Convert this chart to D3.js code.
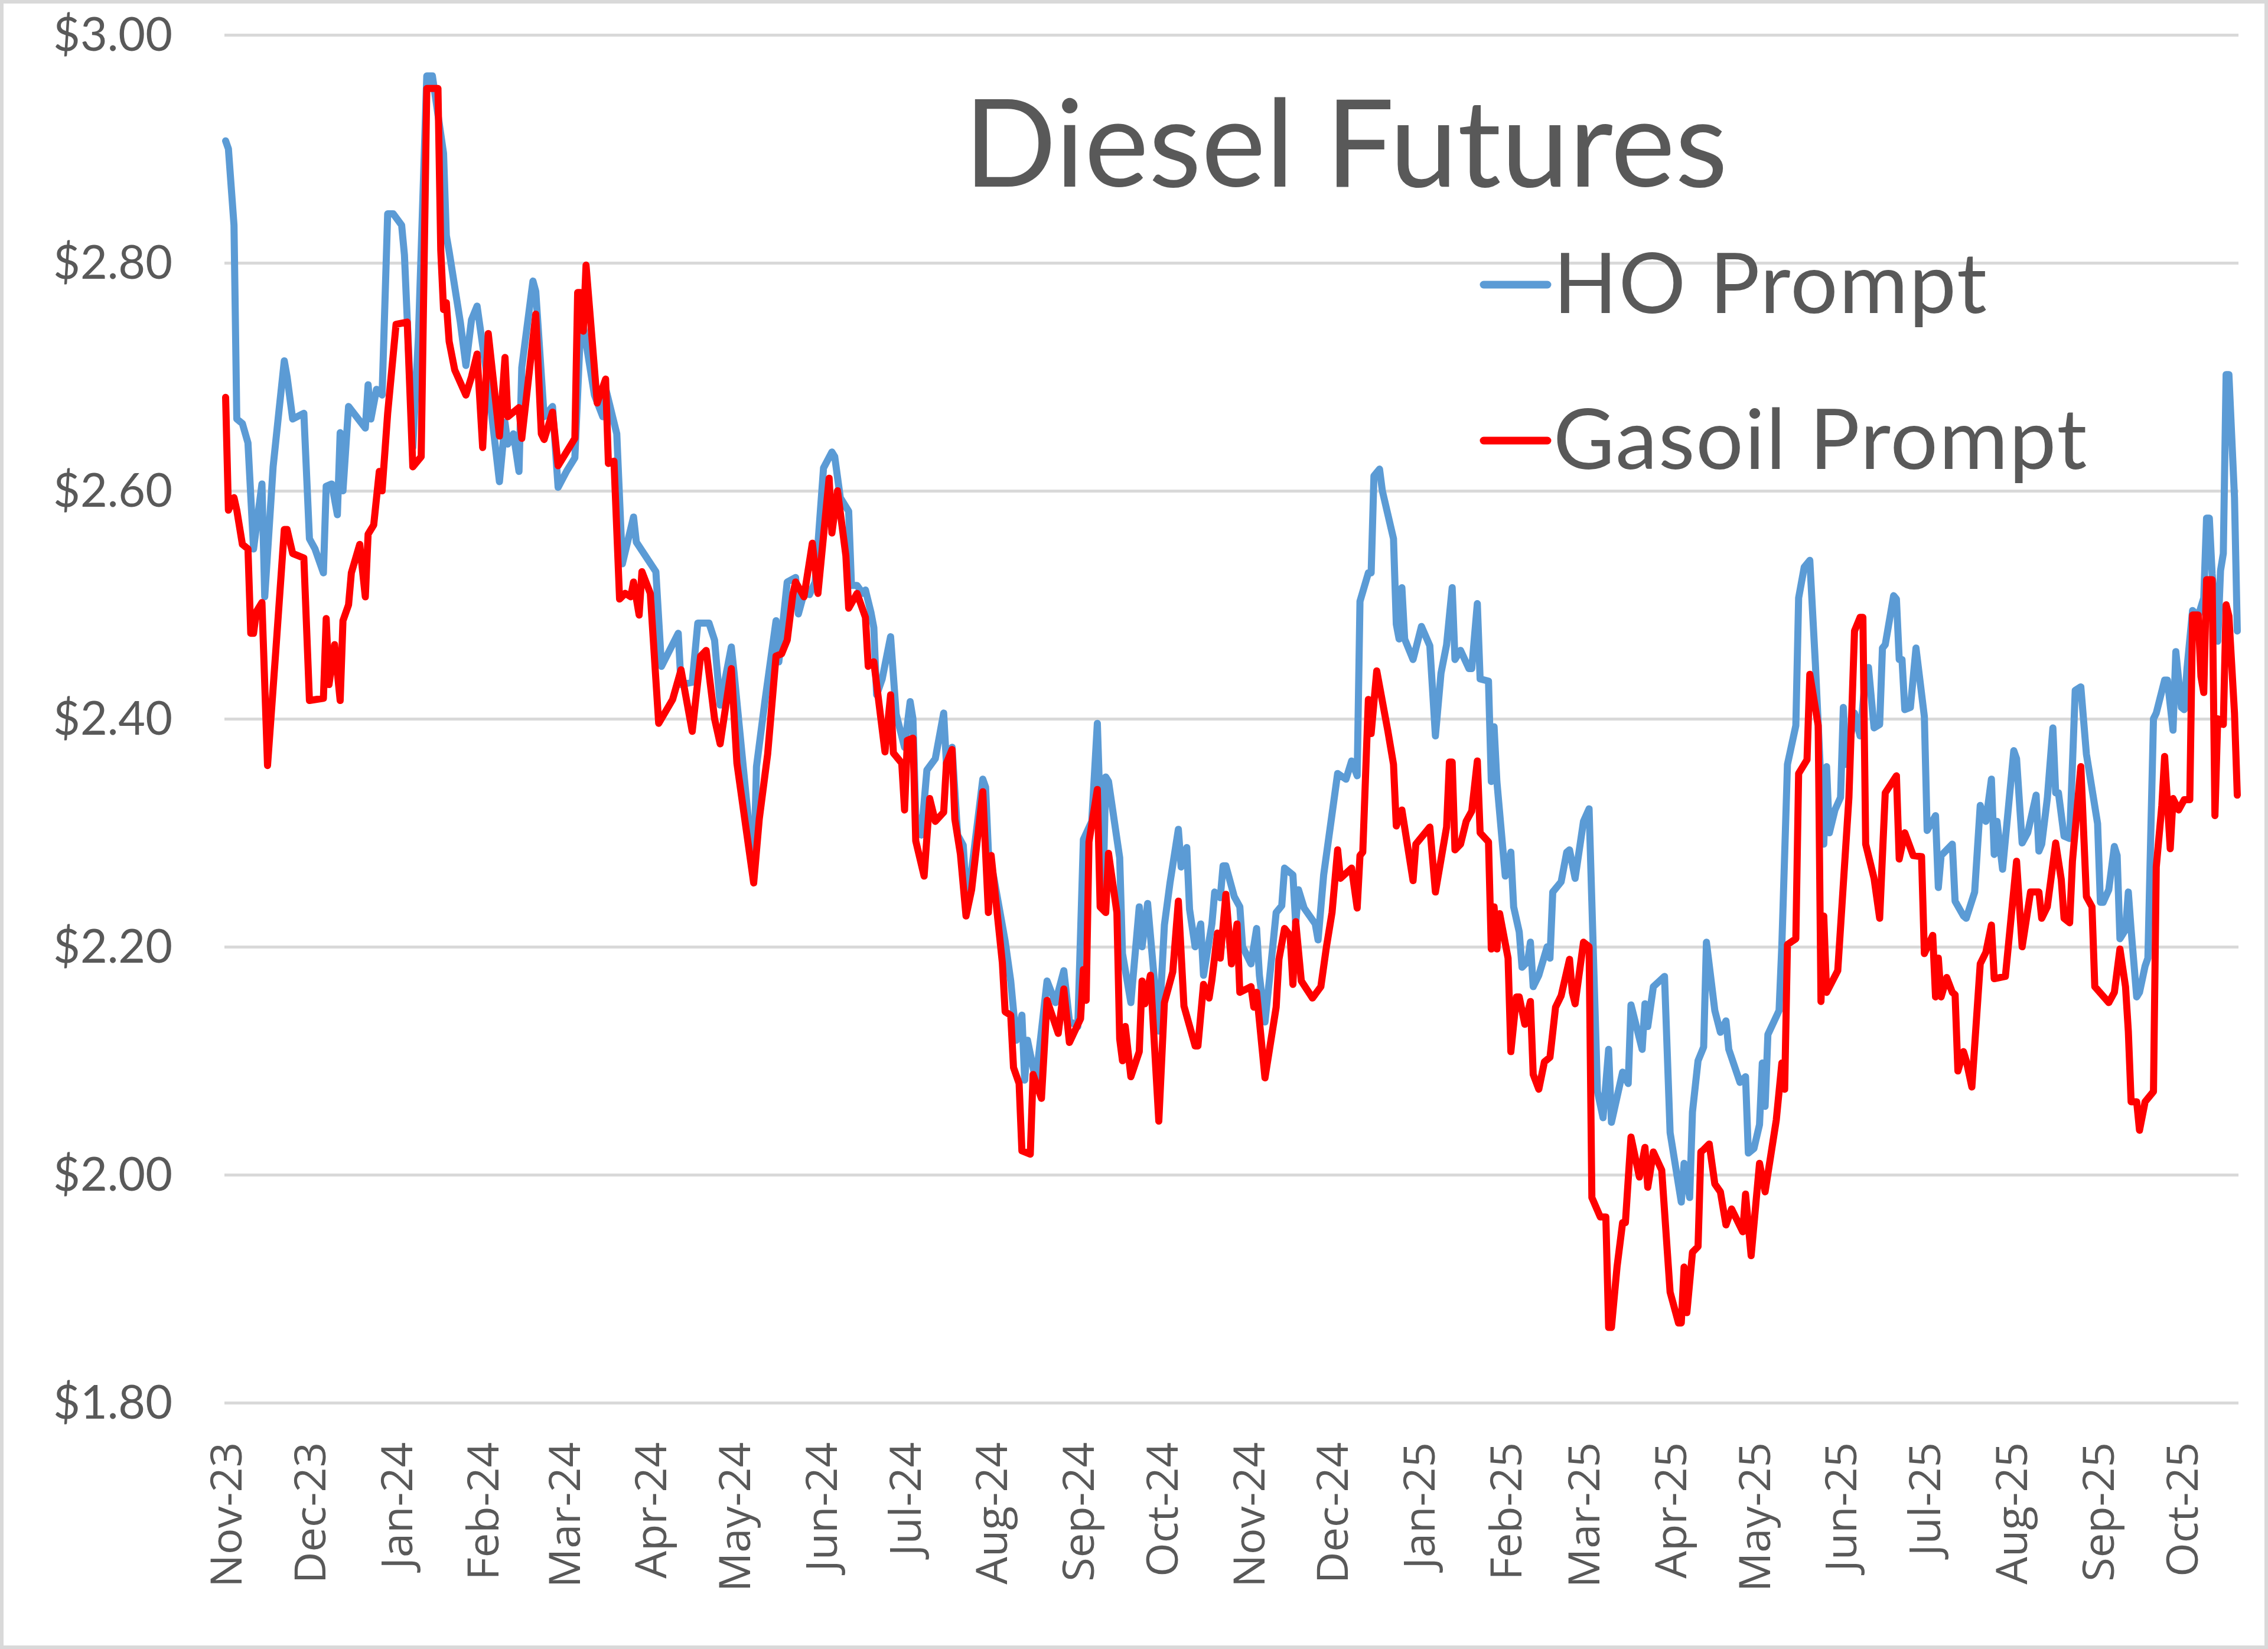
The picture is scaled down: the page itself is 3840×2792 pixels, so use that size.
<!DOCTYPE html>
<html>
<head>
<meta charset="utf-8">
<script src="https://cdn.jsdelivr.net/npm/d3@7"></script>
<style>
  html, body { margin: 0; padding: 0; background: #ffffff; }
</style>
</head>
<body>
<script type="text/javascript">
    const Width = 3840;
    const Height = 2792;

    // first trading day of the series, days below are counted from here
    const startDate = "2023-11-01";
    const lastDay = 720;

    const yTicks = [1.8, 2.0, 2.2, 2.4, 2.6, 2.8, 3.0];
    const seriesNames = ["HO Prompt", "Gasoil Prompt"];

    // [day offset, $/gal]
    const hoPrompt = [
        [0,2.907],[1,2.90],[3,2.833],[4,2.663],[6,2.659],[8,2.642],[10,2.549],[13,2.606],[14,2.507],[17,2.621],
        [19,2.668],[21,2.714],[22,2.70],[24,2.663],[28,2.668],[30,2.558],[32,2.549],[35,2.528],[36,2.604],[38,2.606],
        [40,2.579],[41,2.651],[42,2.60],[44,2.674],[50,2.655],[51,2.693],[52,2.663],[54,2.689],[56,2.684],[58,2.843],
        [60,2.843],[63,2.833],[64,2.807],[67,2.638],[69,2.735],[72,2.964],[74,2.964],[78,2.896],[79,2.824],[80,2.81],
        [84,2.748],[86,2.71],[88,2.75],[90,2.762],[94,2.693],[98,2.608],[100,2.66],[101,2.641],[103,2.65],[105,2.617],
        [106,2.708],[110,2.784],[111,2.775],[114,2.665],[117,2.674],[119,2.603],[122,2.617],[125,2.629],[127,2.741],[128,2.745],
        [132,2.684],[135,2.665],[136,2.69],[140,2.650],[142,2.536],[146,2.577],[147,2.555],[154,2.529],[156,2.446],[162,2.475],
        [163,2.43],[167,2.432],[169,2.484],[173,2.484],[175,2.469],[177,2.412],[181,2.463],[182,2.44],[189,2.264],[190,2.358],
        [193,2.415],[197,2.486],[198,2.45],[201,2.52],[204,2.524],[205,2.492],[207,2.51],[209,2.509],[211,2.52],[214,2.62],
        [217,2.634],[218,2.63],[220,2.594],[223,2.582],[224,2.517],[226,2.517],[228,2.51],[229,2.513],[231,2.493],[232,2.48],
        [233,2.421],[235,2.435],[238,2.472],[240,2.404],[243,2.375],[245,2.415],[246,2.40],[247,2.316],[249,2.298],[251,2.355],
        [254,2.365],[257,2.405],[258,2.36],[260,2.375],[262,2.298],[264,2.289],[265,2.25],[267,2.267],[271,2.347],[272,2.34],
        [273,2.284],[275,2.26],[279,2.205],[281,2.17],[283,2.118],[285,2.14],[286,2.083],[287,2.118],[289,2.094],[290,2.083],
        [294,2.17],[297,2.151],[300,2.179],[302,2.135],[305,2.13],[307,2.294],[310,2.31],[312,2.396],[314,2.243],[315,2.349],
        [316,2.345],[320,2.278],[321,2.194],[324,2.151],[327,2.235],[328,2.2],[330,2.238],[334,2.126],[336,2.219],[338,2.256],
        [341,2.303],[342,2.27],[344,2.287],[345,2.233],[347,2.20],[349,2.22],[350,2.175],[353,2.22],[354,2.248],[356,2.243],
        [357,2.271],[358,2.271],[361,2.244],[363,2.235],[364,2.20],[367,2.185],[369,2.216],[370,2.175],[372,2.134],[374,2.181],
        [376,2.23],[378,2.236],[379,2.269],[382,2.263],[383,2.22],[384,2.25],[386,2.234],[390,2.22],[391,2.206],[393,2.263],
        [398,2.352],[401,2.347],[403,2.363],[405,2.35],[406,2.503],[409,2.528],[410,2.528],[411,2.613],[413,2.619],[414,2.60],
        [418,2.558],[419,2.483],[420,2.47],[421,2.515],[422,2.47],[425,2.452],[428,2.481],[431,2.464],[433,2.385],[435,2.44],
        [437,2.465],[439,2.515],[440,2.452],[442,2.46],[445,2.444],[446,2.444],[448,2.501],[449,2.435],[452,2.433],[453,2.345],
        [454,2.393],[455,2.345],[458,2.262],[460,2.283],[461,2.235],[463,2.213],[464,2.182],[466,2.187],[467,2.204],[468,2.165],
        [470,2.175],[473,2.20],[474,2.19],[475,2.248],[478,2.257],[480,2.283],[481,2.285],[483,2.26],[486,2.31],[488,2.321],
        [491,2.073],[493,2.05],[495,2.11],[496,2.046],[500,2.09],[502,2.08],[503,2.149],[507,2.11],[508,2.15],[509,2.13],
        [511,2.165],[515,2.174],[517,2.037],[521,1.976],[522,2.01],[524,1.98],[525,2.055],[527,2.10],[529,2.112],[530,2.204],
        [533,2.144],[535,2.125],[537,2.135],[538,2.11],[542,2.081],[544,2.086],[545,2.019],[547,2.023],[549,2.044],[550,2.098],
        [551,2.06],[552,2.123],[556,2.144],[557,2.202],[559,2.36],[562,2.394],[563,2.506],[565,2.533],[567,2.539],[569,2.448],
        [572,2.29],[573,2.358],[574,2.30],[576,2.32],[578,2.331],[579,2.41],[580,2.36],[583,2.405],[585,2.385],[587,2.439],
        [588,2.445],[590,2.392],[592,2.395],[593,2.462],[594,2.465],[597,2.508],[598,2.505],[599,2.452],[600,2.452],[601,2.408],
        [603,2.41],[605,2.462],[608,2.402],[609,2.302],[612,2.315],[613,2.252],[614,2.28],[618,2.29],[619,2.24],[622,2.227],
        [623,2.225],[626,2.248],[628,2.324],[630,2.31],[632,2.347],[633,2.281],[634,2.31],[636,2.268],[640,2.372],[641,2.365],
        [643,2.291],[645,2.30],[648,2.333],[649,2.284],[650,2.29],[652,2.33],[654,2.392],[655,2.335],[656,2.335],[658,2.297],
        [660,2.295],[662,2.425],[664,2.428],[666,2.369],[670,2.308],[671,2.239],[672,2.239],[674,2.25],[676,2.288],[677,2.28],
        [678,2.207],[680,2.215],[681,2.248],[682,2.215],[684,2.156],[685,2.16],[687,2.183],[688,2.19],[690,2.40],[691,2.405],
        [694,2.434],[695,2.434],[697,2.39],[698,2.459],[700,2.41],[701,2.408],[702,2.444],[704,2.495],[706,2.49],[708,2.506],
        [709,2.576],[710,2.576],[711,2.527],[713,2.468],[714,2.53],[715,2.545],[716,2.702],[717,2.702],[719,2.594],[720,2.477]
    ];

    const gasoilPrompt = [
        [0,2.682],[1,2.583],[3,2.594],[4,2.583],[6,2.553],[8,2.549],[9,2.475],[10,2.475],[11,2.494],[13,2.502],
        [15,2.359],[18,2.461],[21,2.566],[22,2.566],[24,2.545],[28,2.541],[30,2.416],[35,2.418],[36,2.488],[37,2.43],
        [39,2.465],[41,2.416],[42,2.486],[44,2.50],[45,2.528],[48,2.553],[50,2.507],[51,2.562],[53,2.57],[55,2.617],
        [56,2.60],[58,2.668],[61,2.746],[65,2.748],[67,2.621],[70,2.63],[72,2.953],[76,2.953],[77,2.811],[78,2.759],
        [79,2.765],[80,2.731],[82,2.706],[86,2.684],[88,2.70],[90,2.72],[92,2.638],[94,2.738],[98,2.648],[100,2.717],
        [101,2.665],[105,2.673],[106,2.646],[111,2.755],[113,2.65],[114,2.645],[117,2.669],[119,2.622],[125,2.646],[126,2.774],
        [127,2.774],[128,2.74],[129,2.798],[133,2.677],[136,2.698],[137,2.624],[139,2.626],[141,2.505],[143,2.51],[145,2.507],
        [146,2.52],[148,2.491],[149,2.529],[152,2.51],[155,2.396],[160,2.417],[163,2.443],[167,2.389],[170,2.455],[172,2.46],
        [175,2.40],[177,2.378],[181,2.444],[183,2.361],[189,2.256],[191,2.312],[194,2.369],[197,2.455],[199,2.457],[201,2.469],
        [203,2.509],[204,2.52],[207,2.507],[210,2.554],[212,2.51],[216,2.611],[217,2.563],[219,2.60],[222,2.543],[223,2.497],
        [226,2.51],[229,2.489],[230,2.446],[232,2.45],[236,2.371],[238,2.421],[239,2.37],[242,2.361],[243,2.32],[244,2.381],
        [246,2.383],[247,2.293],[250,2.262],[252,2.33],[254,2.31],[257,2.318],[258,2.361],[260,2.373],[261,2.312],[263,2.281],
        [265,2.227],[267,2.25],[271,2.336],[273,2.23],[274,2.28],[278,2.186],[279,2.143],[281,2.14],[282,2.094],[284,2.08],
        [285,2.021],[288,2.018],[289,2.088],[292,2.067],[294,2.153],[298,2.124],[300,2.163],[302,2.116],[306,2.137],[307,2.18],
        [308,2.153],[309,2.292],[312,2.338],[313,2.235],[315,2.23],[316,2.282],[319,2.23],[320,2.119],[321,2.10],[322,2.13],
        [324,2.086],[327,2.108],[328,2.17],[329,2.15],[331,2.175],[334,2.047],[336,2.151],[339,2.178],[341,2.24],[343,2.148],
        [347,2.113],[348,2.113],[350,2.167],[352,2.155],[353,2.171],[355,2.212],[356,2.19],[358,2.246],[360,2.185],[362,2.22],
        [363,2.16],[367,2.165],[368,2.147],[369,2.16],[372,2.085],[376,2.147],[377,2.189],[379,2.216],[381,2.21],[382,2.167],
        [383,2.222],[385,2.17],[389,2.155],[392,2.165],[394,2.20],[396,2.23],[398,2.285],[399,2.26],[403,2.269],[405,2.234],
        [406,2.28],[407,2.283],[409,2.417],[410,2.387],[412,2.442],[416,2.389],[418,2.36],[419,2.306],[421,2.32],[425,2.258],
        [426,2.29],[431,2.305],[433,2.248],[437,2.305],[438,2.362],[439,2.362],[440,2.285],[442,2.29],[444,2.31],[446,2.319],
        [448,2.363],[449,2.30],[452,2.292],[453,2.198],[454,2.235],[455,2.198],[456,2.229],[459,2.19],[460,2.108],[462,2.156],
        [463,2.156],[465,2.132],[467,2.152],[468,2.088],[470,2.075],[472,2.099],[474,2.103],[476,2.147],[478,2.157],[481,2.189],
        [482,2.16],[483,2.15],[486,2.204],[488,2.20],[489,1.98],[492,1.963],[494,1.963],[495,1.866],[496,1.866],[498,1.919],
        [500,1.958],[501,1.958],[503,2.033],[506,1.998],[508,2.024],[509,1.989],[511,2.02],[514,2.004],[517,1.897],[520,1.870],
        [521,1.870],[522,1.919],[523,1.879],[525,1.932],[527,1.937],[528,2.02],[529,2.022],[531,2.027],[533,1.992],[535,1.985],
        [537,1.956],[539,1.97],[543,1.95],[544,1.983],[546,1.929],[549,2.01],[551,1.985],[555,2.048],[557,2.098],[558,2.075],
        [559,2.202],[562,2.207],[563,2.352],[566,2.364],[567,2.439],[570,2.394],[571,2.152],[572,2.227],[573,2.16],[577,2.179],
        [581,2.331],[583,2.477],[585,2.489],[586,2.489],[587,2.29],[590,2.26],[592,2.225],[594,2.335],[598,2.35],[599,2.277],
        [601,2.30],[604,2.28],[607,2.279],[608,2.194],[611,2.21],[612,2.156],[613,2.19],[614,2.156],[616,2.173],[618,2.16],
        [619,2.158],[620,2.091],[622,2.108],[623,2.10],[625,2.077],[628,2.185],[630,2.195],[632,2.219],[633,2.172],[637,2.174],
        [641,2.275],[643,2.20],[646,2.248],[649,2.248],[650,2.225],[652,2.235],[655,2.291],[657,2.259],[658,2.225],[660,2.221],
        [661,2.275],[664,2.358],[666,2.244],[668,2.235],[669,2.165],[674,2.151],[676,2.16],[678,2.198],[680,2.165],[681,2.126],
        [682,2.064],[684,2.064],[685,2.039],[687,2.064],[690,2.073],[691,2.27],[693,2.324],[694,2.367],[696,2.286],[697,2.33],
        [699,2.32],[701,2.329],[703,2.329],[704,2.491],[706,2.491],[707,2.437],[708,2.423],[709,2.522],[711,2.522],[712,2.315],
        [713,2.40],[715,2.395],[716,2.50],[717,2.49],[719,2.405],[720,2.333]
    ];

    const seriesColors = ["#5b9bd5", "#ff0000"];

    const plot = { left: 382, right: 3788, top: 59, bottom: 2375 };
    const labelFont = "Lato, 'Open Sans', sans-serif";
    const textColor = "#595959";

    const start = d3.timeParse("%Y-%m-%d")(startDate);
    const toDate = d => d3.timeDay.offset(start, d);

    const svg = d3.select("body")
     .append("svg")
     .attr("width", Width)
     .attr("height", Height);

    // chart area with its thin grey frame
    svg.append("rect")
     .attr("x", 3).attr("y", 3)
     .attr("width", Width - 6).attr("height", Height - 6)
     .attr("fill", "#ffffff")
     .attr("stroke", "#d9d9d9")
     .attr("stroke-width", 6);

    const x = d3.scaleTime()
     .domain([start, toDate(lastDay)])
     .range([plot.left, plot.right]);

    const y = d3.scaleLinear()
     .domain([1.8, 3.0])
     .range([plot.bottom, plot.top]);

    // y axis: labels + horizontal gridlines
    const yAxis = svg.append("g")
     .attr("transform", "translate(" + (plot.left - 2) + ",0)")
     .call(d3.axisLeft(y)
        .tickValues(yTicks)
        .tickFormat(d3.format("$.2f"))
        .tickSize(-(plot.right - plot.left + 4))
        .tickPadding(88));
    yAxis.select(".domain").remove();
    yAxis.selectAll(".tick line")
     .attr("stroke", "#d9d9d9")
     .attr("stroke-width", 5);
    yAxis.selectAll(".tick text")
     .attr("fill", textColor)
     .attr("font-family", labelFont)
     .attr("font-size", 79)
     .attr("dy", "0.34em");

    // x axis: monthly rotated labels
    const months = d3.timeMonth.range(start, toDate(lastDay));
    const xAxis = svg.append("g")
     .attr("transform", "translate(0," + plot.bottom + ")")
     .call(d3.axisBottom(x)
        .tickValues(months)
        .tickFormat(d3.timeFormat("%b-%y"))
        .tickSize(0));
    xAxis.select(".domain").remove();
    xAxis.selectAll(".tick text")
     .attr("fill", textColor)
     .attr("font-family", "'Open Sans', sans-serif")
     .attr("font-size", 74)
     .attr("text-anchor", "end")
     .attr("transform", "rotate(-90)")
     .attr("x", -67)
     .attr("y", 0)
     .attr("dy", "0.36em");

    // series lines
    const line = d3.line()
     .x(d => x(toDate(d[0])))
     .y(d => y(d[1]));

    [hoPrompt, gasoilPrompt].forEach(function (data, i) {
        svg.append("path")
         .datum(data)
         .attr("fill", "none")
         .attr("stroke", seriesColors[i])
         .attr("stroke-width", 12)
         .attr("stroke-linejoin", "round")
         .attr("stroke-linecap", "round")
         .attr("d", line);
    });

    // title
    svg.append("text")
     .attr("x", 1632)
     .attr("y", 316)
     .attr("fill", textColor)
     .attr("font-family", labelFont)
     .attr("font-size", 206)
     .text("Diesel Futures");

    // legend
    const legend = svg.selectAll(".legend")
     .data(seriesNames)
     .enter()
     .append("g")
     .attr("class", "legend")
     .attr("transform", function (d, i) {
           return "translate(0," + (i * 264) + ")";
     });
    legend.append("line")
     .attr("x1", 2512).attr("x2", 2620)
     .attr("y1", 482).attr("y2", 482)
     .attr("stroke", (d, i) => seriesColors[i])
     .attr("stroke-width", 13)
     .attr("stroke-linecap", "round");
    legend.append("text")
     .attr("x", 2630)
     .attr("y", 530)
     .attr("fill", textColor)
     .attr("font-family", labelFont)
     .attr("font-size", 142)
     .attr("letter-spacing", 2)
     .text(d => d);
</script>
</body>
</html>
